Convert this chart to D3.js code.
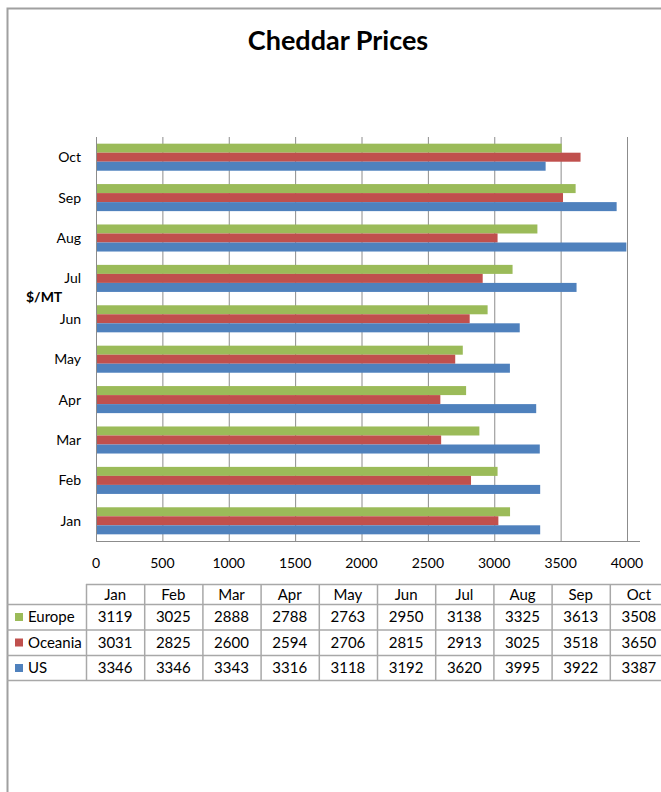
<!DOCTYPE html>
<html>
<head>
<meta charset="utf-8">
<script src="https://cdn.jsdelivr.net/npm/d3@7"></script>
<style>
  body { margin: 0; background: #fff; }
  text { font-family: Lato, "Open Sans", sans-serif; fill: #000; }
</style>
</head>
<body>
<script>
(function() {

    const width = 661;
    const height = 792;

    const months = ["Jan", "Feb", "Mar", "Apr", "May", "Jun", "Jul", "Aug", "Sep", "Oct"];
    const seriesNames = ["Europe", "Oceania", "US"];
    const europe = [3119, 3025, 2888, 2788, 2763, 2950, 3138, 3325, 3613, 3508];
    const oceania = [3031, 2825, 2600, 2594, 2706, 2815, 2913, 3025, 3518, 3650];
    const us = [3346, 3346, 3343, 3316, 3118, 3192, 3620, 3995, 3922, 3387];
    const xTicks = [0, 500, 1000, 1500, 2000, 2500, 3000, 3500, 4000];
    const colors = ["#9BBB59", "#C0504D", "#4F81BD"];

    const seriesValues = [europe, oceania, us];

    // plot area
    const left = 96, right = 627, top = 137, bottom = 541;

    let svg = d3.select("body").append("svg")
        .attr("width", width)
        .attr("height", height);

    // outer frame
    svg.append("path")
        .attr("d", "M7.5," + height + "V8.5H" + width)
        .attr("fill", "none")
        .attr("stroke", "#a0a0a0")
        .attr("stroke-width", 2);

    // title
    svg.append("text")
        .attr("x", 338)
        .attr("y", 50)
        .attr("text-anchor", "middle")
        .style("font-size", "27px")
        .style("font-weight", "bold")
        .text("Cheddar Prices");

    let x = d3.scaleLinear()
        .domain([0, 4000])
        .range([left, right]);

    // Oct on top, Jan at the bottom
    let y = d3.scaleBand()
        .domain(months.slice().reverse())
        .range([top, bottom]);

    let ySeries = d3.scaleBand()
        .domain(seriesNames)
        .range([0, y.bandwidth()])
        .paddingOuter(0.74);

    // vertical gridlines
    svg.append("g")
        .selectAll("line")
        .data(xTicks.slice(1))
        .enter()
        .append("line")
        .attr("x1", d => x(d) + 0.5)
        .attr("x2", d => x(d) + 0.5)
        .attr("y1", top)
        .attr("y2", bottom)
        .attr("stroke", "#8c8c8c")
        .attr("stroke-width", 1);

    // axis lines
    svg.append("line")
        .attr("x1", left + 0.5).attr("x2", left + 0.5)
        .attr("y1", top).attr("y2", bottom)
        .attr("stroke", "#8c8c8c");
    svg.append("line")
        .attr("x1", left).attr("x2", 640)
        .attr("y1", bottom + 0.5).attr("y2", bottom + 0.5)
        .attr("stroke", "#8c8c8c");

    // bars
    let groups = svg.append("g")
        .selectAll("g")
        .data(months)
        .enter()
        .append("g")
        .attr("transform", d => "translate(0," + y(d) + ")");

    groups.selectAll("rect")
        .data((m, i) => seriesNames.map((s, j) => ({ series: s, value: seriesValues[j][i], color: colors[j] })))
        .enter()
        .append("rect")
        .attr("x", x(0) + 1)
        .attr("y", d => ySeries(d.series))
        .attr("width", d => x(d.value) - x(0) - 1)
        .attr("height", ySeries.bandwidth())
        .attr("fill", d => d.color);

    // x tick labels
    svg.append("g")
        .selectAll("text")
        .data(xTicks)
        .enter()
        .append("text")
        .attr("x", d => x(d))
        .attr("y", 568)
        .attr("text-anchor", "middle")
        .style("font-size", "14px")
        .text(d => d);

    // y tick labels
    svg.append("g")
        .selectAll("text")
        .data(months)
        .enter()
        .append("text")
        .attr("x", 81)
        .attr("y", d => y(d) + y.bandwidth() / 2 + 5)
        .attr("text-anchor", "end")
        .style("font-size", "14px")
        .text(d => d);

    // axis title
    svg.append("text")
        .attr("x", 26)
        .attr("y", 302)
        .style("font-size", "14px")
        .style("font-weight", "bold")
        .text("$/MT");

    // data table
    const colW = 58.2;
    const tableLeft = 86;
    const rowTops = [584, 604, 629.5, 655, 680];
    const lineColor = "#a8a8a8";

    let tx = i => tableLeft + i * colW;
    let table = svg.append("g");

    // horizontal lines
    table.append("line")
        .attr("x1", tableLeft).attr("x2", width)
        .attr("y1", rowTops[0] + 0.5).attr("y2", rowTops[0] + 0.5)
        .attr("stroke", lineColor).attr("stroke-width", 1.5);
    table.selectAll("line.h")
        .data(rowTops.slice(1))
        .enter()
        .append("line")
        .attr("class", "h")
        .attr("x1", 7).attr("x2", width)
        .attr("y1", d => d + 0.5).attr("y2", d => d + 0.5)
        .attr("stroke", lineColor).attr("stroke-width", 1.5);

    // vertical lines
    table.selectAll("line.v")
        .data(d3.range(months.length + 1))
        .enter()
        .append("line")
        .attr("class", "v")
        .attr("x1", i => tx(i) + 0.5).attr("x2", i => tx(i) + 0.5)
        .attr("y1", rowTops[0]).attr("y2", rowTops[4])
        .attr("stroke", lineColor).attr("stroke-width", 1.5);

    // header
    table.selectAll("text.head")
        .data(months)
        .enter()
        .append("text")
        .attr("class", "head")
        .attr("x", (d, i) => tx(i) + colW / 2)
        .attr("y", 600)
        .attr("text-anchor", "middle")
        .style("font-size", "15px")
        .text(d => d);

    // rows
    let rows = table.selectAll("g.row")
        .data(seriesNames)
        .enter()
        .append("g")
        .attr("class", "row")
        .attr("transform", (d, i) => "translate(0," + rowTops[i + 1] + ")");

    rows.append("rect")
        .attr("x", 15)
        .attr("y", 9)
        .attr("width", 8)
        .attr("height", 8)
        .attr("fill", (d, i) => colors[i]);

    rows.append("text")
        .attr("x", 28)
        .attr("y", 18)
        .style("font-size", "15px")
        .text(d => d);

    rows.selectAll("text.val")
        .data((d, i) => seriesValues[i])
        .enter()
        .append("text")
        .attr("class", "val")
        .attr("x", (d, i) => tx(i) + colW / 2)
        .attr("y", 18)
        .attr("text-anchor", "middle")
        .style("font-size", "15px")
        .text(d => d);

})();
</script>
</body>
</html>
